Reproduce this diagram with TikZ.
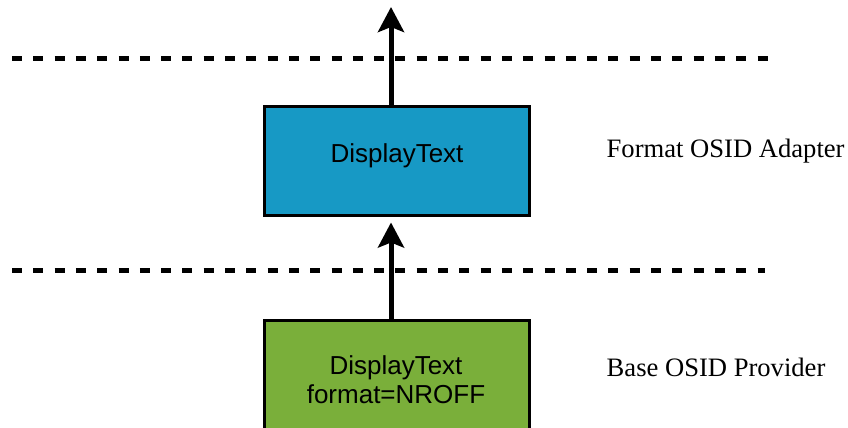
\documentclass[tikz,border=0pt]{standalone}
\usepackage{fontspec}
\setmainfont{Liberation Serif}
\newfontfamily\boxfont{Liberation Sans}
\usetikzlibrary{arrows.meta}
\definecolor{adapterblue}{RGB}{23,153,197}
\definecolor{providergreen}{RGB}{122,175,58}
\tikzset{
  layerbox/.style={draw=black, line width=3pt, minimum width=265pt, inner sep=0pt},
  boxtext/.style={font=\boxfont\fontsize{26}{29}\selectfont, inner sep=0pt, align=center},
  layerlabel/.style={font=\fontsize{26.6}{30}\selectfont, inner sep=0pt, anchor=base west},
  boundary/.style={line width=4.5pt, dash pattern=on 10pt off 11.3pt},
  flow/.style={line width=5pt, -{Stealth[length=25pt, width=26pt, inset=5pt]}}
}
\begin{document}
\begin{tikzpicture}[x=1pt,y=-1pt]
\useasboundingbox (0,0) rectangle (848,428);
% layer boundaries
\coordinate (b1s) at (12,58.5);
\coordinate (b1e) at (770,58.5);
\coordinate (b2s) at (12,270.5);
\coordinate (b2e) at (765,270.5);
\draw[boundary] (b1s) -- (b1e);
\draw[boundary] (b2s) -- (b2e);
% boxes
\node[layerbox, fill=adapterblue, minimum height=108.5pt] (adapter) at (397,160.75) {};
\node[layerbox, fill=providergreen, minimum height=130pt] (provider) at (397,385.5) {};
\node[boxtext, anchor=base] (adaptertext) at (397,162.3) {DisplayText};
\node[boxtext] (providertext) at (396,380) {DisplayText\\format=NROFF};
% labels
\node[layerlabel] (adapterlabel) at (606.5,157.3) {Format OSID Adapter};
\node[layerlabel] (providerlabel) at (606.5,376) {Base OSID Provider};
% arrows
\coordinate (out) at (391,7);
\draw[flow] (adapter.north -| out) -- (out);
\draw[flow] (provider.north -| out) -- ([yshift=-6pt]adapter.south -| out);
\end{tikzpicture}
\end{document}
